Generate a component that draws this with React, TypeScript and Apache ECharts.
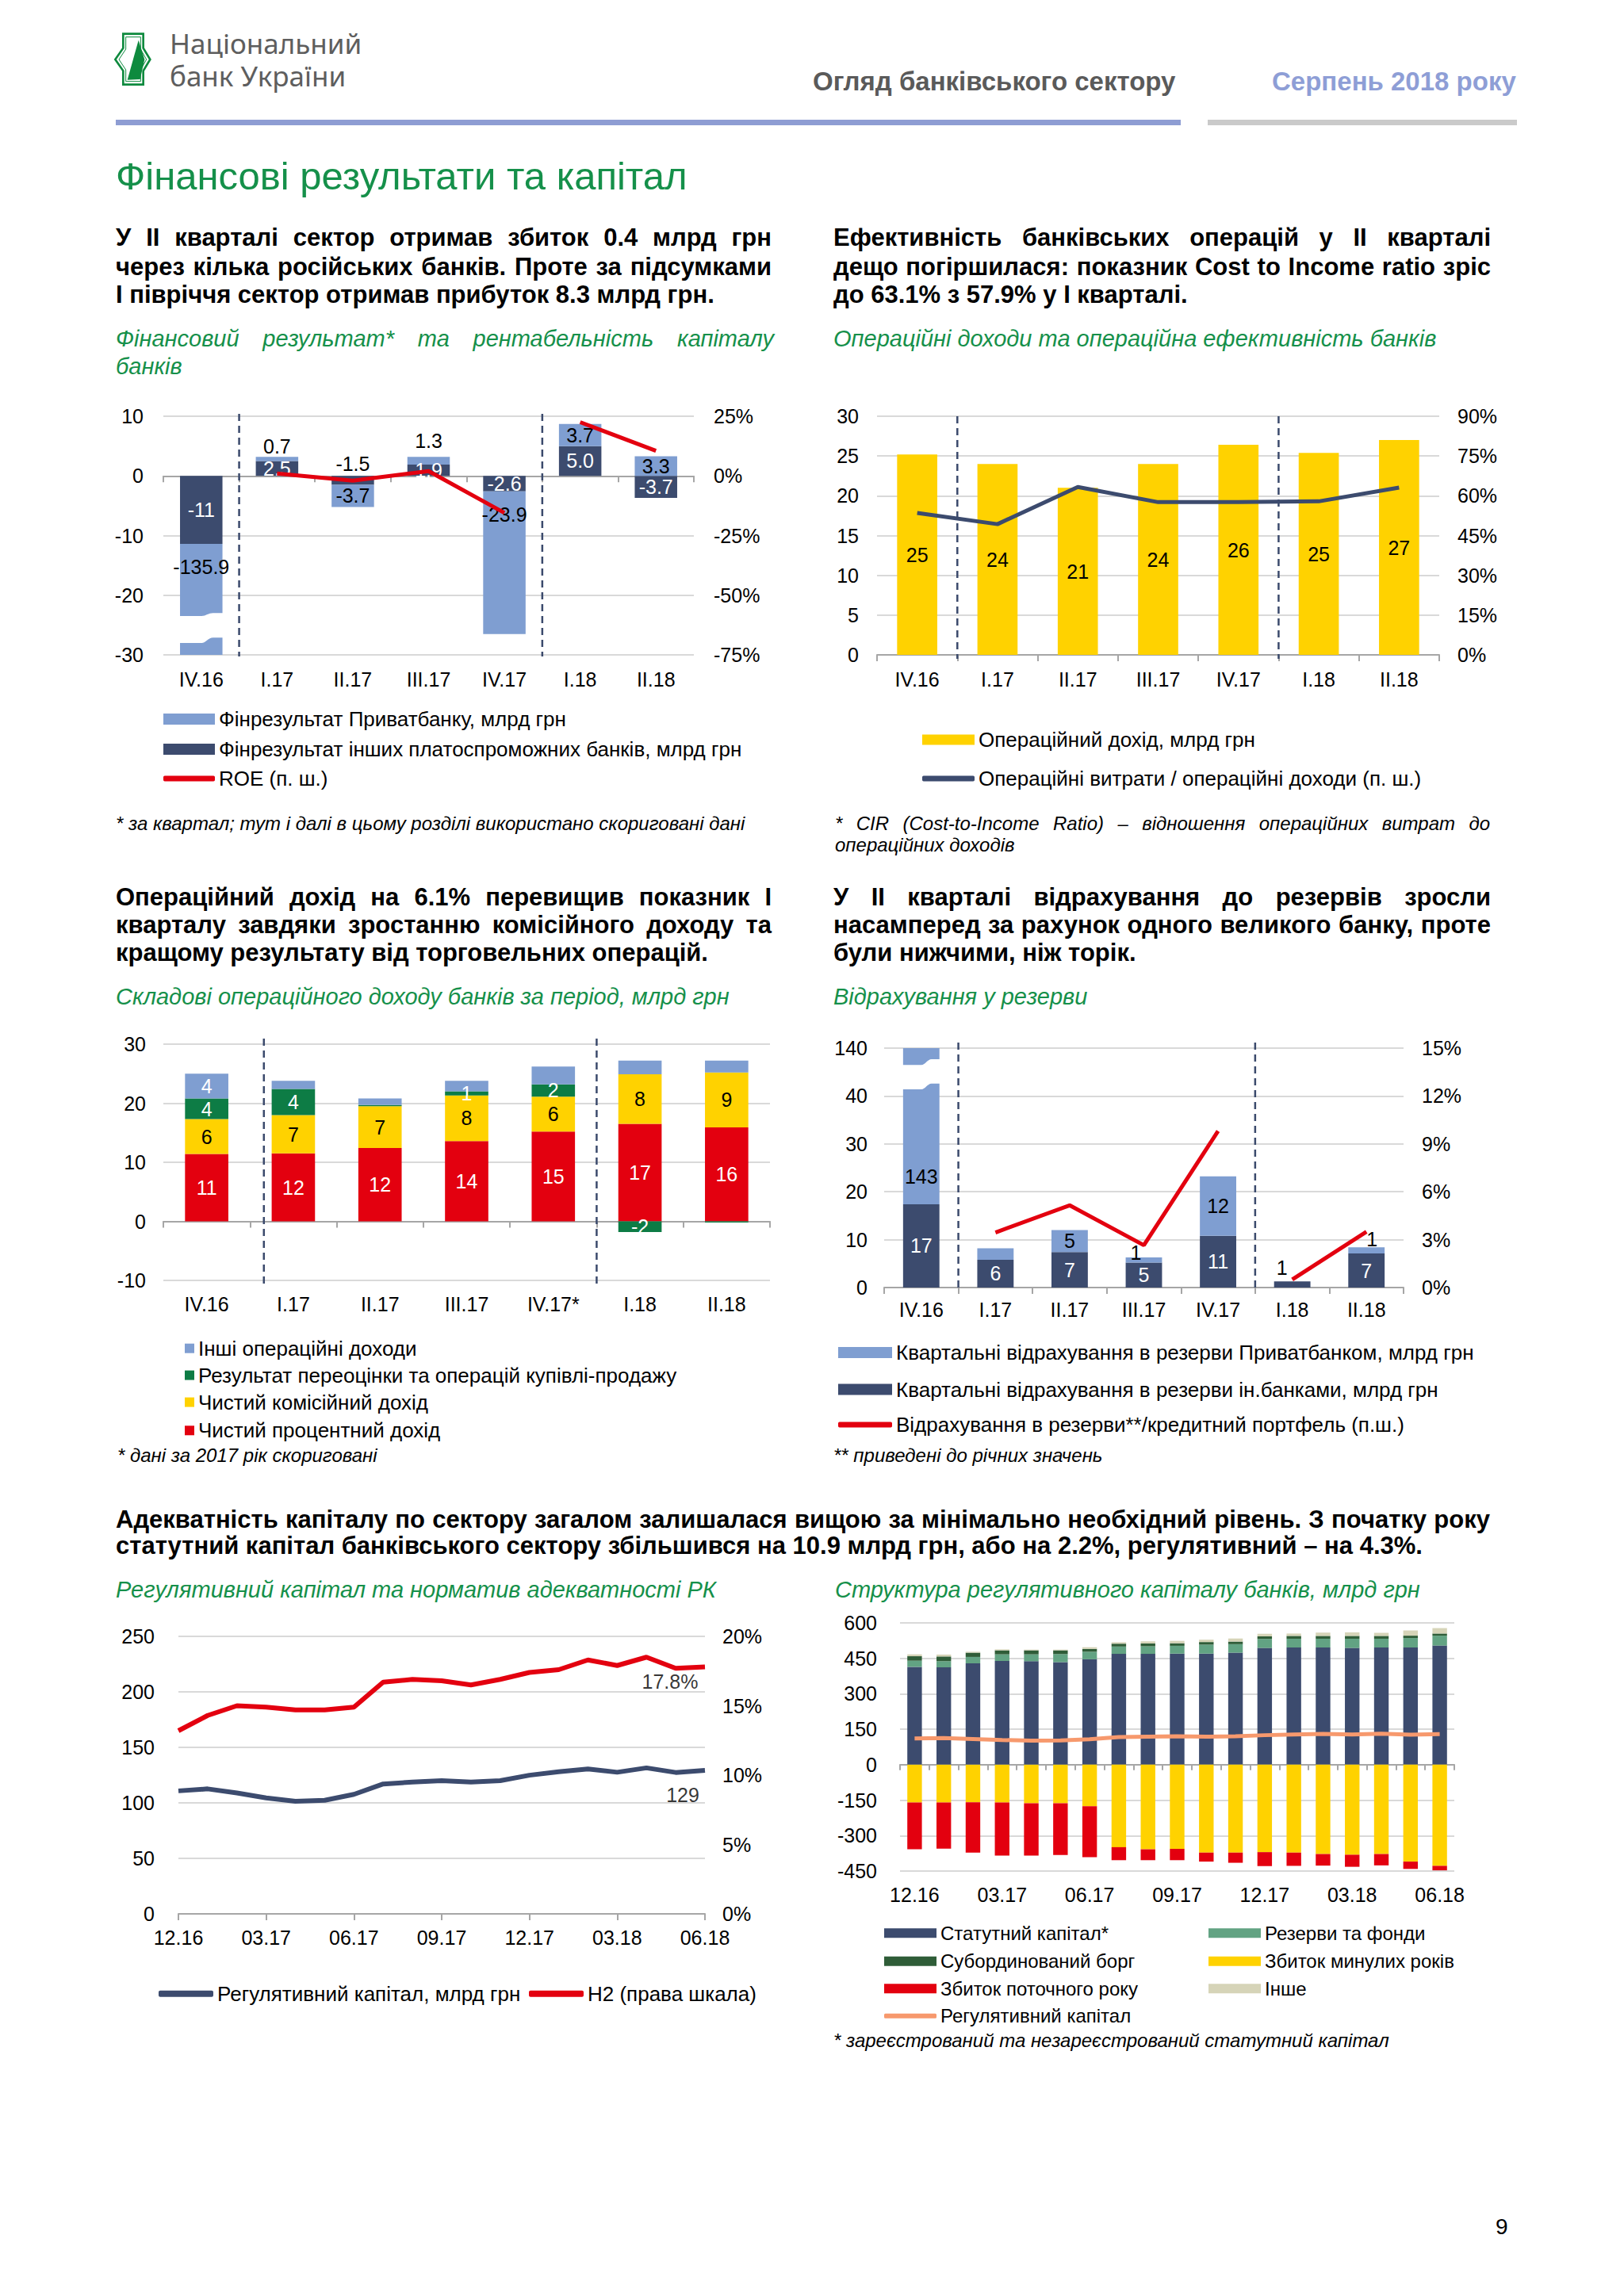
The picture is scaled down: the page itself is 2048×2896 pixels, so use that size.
import React, { useEffect, useRef } from 'react';
import * as echarts from 'echarts';

const FONT = '"Liberation Sans", Arial, Helvetica, sans-serif';

const NAVY = '#3C4B6E';
const LIGHT_BLUE = '#7F9ED1';
const RED = '#E3000F';
const YELLOW = '#FFD200';
const GREEN = '#0D7C45';
const SAGE = '#62A383';
const DARK_GREEN = '#2F5D38';
const BEIGE = '#D6D4B8';
const ORANGE = '#F7996D';
const GRID_GRAY = '#D9D9D9';
const AXIS_GRAY = '#A6A6A6';
const TITLE_GREEN = '#15904A';

// ---------- Chart 1: financial result & ROE ----------
const quarters = ['IV.16', 'I.17', 'II.17', 'III.17', 'IV.17', 'I.18', 'II.18'];
const finPrivat = [-135.9, 0.7, -3.7, 1.3, -23.9, 3.7, 3.3];
const finOthers = [-11.4, 2.5, -1.5, 1.9, -2.6, 5.0, -3.7];
const roe = [null, 1.0, -2.0, 2.0, -15.5, 22.5, 10.5];

// ---------- Chart 2: operating income & CIR ----------
const opIncome = [25.2, 24.0, 21.0, 24.0, 26.4, 25.4, 27.0];
const cir = [53.5, 49.3, 63.3, 57.6, 57.6, 57.9, 63.1];

// ---------- Chart 3: operating income components ----------
const quarters3 = ['IV.16', 'I.17', 'II.17', 'III.17', 'IV.17*', 'I.18', 'II.18'];
const netInterest = [11.4, 11.5, 12.4, 13.6, 15.2, 16.5, 15.9];
const netFee = [5.9, 6.5, 7.1, 7.7, 5.9, 8.4, 9.3];
const tradingResult = [3.5, 4.4, 0.2, 0.7, 2.1, -1.8, -0.2];
const otherOpIncome = [4.2, 1.4, 1.1, 1.8, 3.0, 2.3, 2.0];

// ---------- Chart 4: provisions ----------
const provOthers = [17.4, 5.8, 7.4, 5.2, 10.8, 1.3, 7.1];
const provPrivat = [143, 2.4, 4.6, 1.1, 12.4, 0, 1.3];
const provRatio = [null, 3.45, 5.15, 2.65, 9.8, 0.5, 3.5];

// ---------- Chart 5: regulatory capital & H2 ----------
const months = ['12.16', '01.17', '02.17', '03.17', '04.17', '05.17', '06.17', '07.17', '08.17', '09.17', '10.17', '11.17', '12.17', '01.18', '02.18', '03.18', '04.18', '05.18', '06.18'];
const regCapital = [110.8, 112.6, 108.9, 104.5, 101.5, 102.3, 107.7, 117.0, 118.7, 120.0, 118.7, 120.0, 124.9, 128.1, 130.5, 127.6, 131.5, 127.4, 129.3];
const h2 = [13.2, 14.3, 15.0, 14.9, 14.7, 14.7, 14.9, 16.7, 16.9, 16.8, 16.5, 16.9, 17.4, 17.6, 18.3, 17.9, 18.5, 17.7, 17.8];

// ---------- Chart 6: structure of regulatory capital ----------
const statCap = [414, 412, 429, 439, 438, 434, 446, 469, 469, 470, 470, 474, 494, 496, 496, 494, 496, 496, 504];
const reserves = [26, 26, 27, 28, 29, 34, 32, 31, 32, 33, 38, 36, 38, 37, 37, 39, 37, 40, 42];
const subDebt = [19, 20, 18, 17, 17, 16, 12, 12, 12, 11, 11, 11, 11, 12, 12, 12, 12, 10, 9];
const otherCap = [8, 8, 4, 4, 3, 3, 7, 6, 9, 10, 10, 13, 11, 10, 14, 15, 13, 22, 23];
const pastLoss = [-160, -160, -159, -160, -163, -163, -176, -349, -358, -356, -372, -372, -370, -372, -378, -381, -378, -410, -428];
const curLoss = [-198, -195, -213, -225, -222, -219, -215, -55, -46, -48, -38, -43, -59, -56, -49, -51, -48, -31, -19];

// series names
const S1A = 'Фінрезультат Приватбанку, млрд грн';
const S1B = 'Фінрезультат інших платоспроможних банків, млрд грн';
const S1C = 'ROE (п. ш.)';
const S2A = 'Операційний дохід, млрд грн';
const S2B = 'Операційні витрати / операційні доходи (п. ш.)';
const S3A = 'Інші операційні доходи';
const S3B = 'Результат переоцінки та операцій купівлі-продажу';
const S3C = 'Чистий комісійний дохід';
const S3D = 'Чистий процентний дохід';
const S4A = 'Квартальні відрахування в резерви Приватбанком, млрд грн';
const S4B = 'Квартальні відрахування в резерви ін.банками, млрд грн';
const S4C = 'Відрахування в резерви**/кредитний портфель (п.ш.)';
const S5A = 'Регулятивний капітал, млрд грн';
const S5B = 'Н2 (права шкала)';
const S6A = 'Статутний капітал*';
const S6B = 'Резерви та фонди';
const S6C = 'Субординований борг';
const S6D = 'Збиток минулих років';
const S6E = 'Збиток поточного року';
const S6F = 'Інше';
const S6G = 'Регулятивний капітал';

const lbl = { fontSize: 25, color: '#000', fontFamily: FONT };

function segment(arr: (number | null)[], from: number, to: number) {
  return arr.map((v, i) => (i >= from && i <= to ? v : null));
}

function catAxis(gridIndex: number, data: string[], margin: number, extra: any = {}) {
  return {
    type: 'category',
    gridIndex,
    data,
    axisLine: { show: true, onZero: true, lineStyle: { color: AXIS_GRAY, width: 2 } },
    axisTick: { show: true, length: 8, interval: 0, lineStyle: { color: AXIS_GRAY, width: 2 } },
    axisLabel: { ...lbl, margin, interval: 0 },
    splitLine: { show: false },
    ...extra,
  };
}

function valAxis(gridIndex: number, position: string, min: number, max: number, interval: number, margin: number, formatter?: any, split = true) {
  const axisLabel: any = { ...lbl, margin };
  if (formatter) axisLabel.formatter = formatter;
  return {
    type: 'value',
    gridIndex,
    position,
    min,
    max,
    interval,
    axisLine: { show: false },
    axisTick: { show: false },
    axisLabel,
    splitLine: split ? { show: true, lineStyle: { color: GRID_GRAY, width: 2 } } : { show: false },
  };
}

const pct = (v: number) => `${v}%`;

function dividers(xAxisIndex: number, yAxisIndex: number, positions: number[], n: number, extTop: number, extBot: number) {
  return {
    type: 'custom',
    xAxisIndex,
    yAxisIndex,
    silent: true,
    z: 5,
    data: positions.map((p) => [0, 0, p]),
    renderItem: (params: any, api: any) => {
      const cs = params.coordSys;
      const x = cs.x + (cs.width * api.value(2)) / n;
      return {
        type: 'line',
        shape: { x1: x, y1: cs.y - extTop, x2: x, y2: cs.y + cs.height + extBot },
        style: { stroke: '#3B4A6C', lineWidth: 2.5, lineDash: [9, 6] },
      };
    },
  };
}

function breakMark(xAxisIndex: number, yAxisIndex: number, edges: number[], ratio: number) {
  return {
    type: 'custom',
    xAxisIndex,
    yAxisIndex,
    silent: true,
    z: 4,
    data: [[0, ...edges]],
    renderItem: (params: any, api: any) => {
      const cat = api.value(0);
      const c = api.coord([cat, api.value(1)]);
      const w = api.size([1, 0])[0] * ratio;
      const x0 = c[0] - w / 2 - 3;
      const x1 = c[0] + w / 2 + 3;
      const ww = x1 - x0;
      const yTL = api.coord([cat, api.value(1)])[1];
      const yTR = api.coord([cat, api.value(2)])[1];
      const yBL = api.coord([cat, api.value(3)])[1];
      const yBR = api.coord([cat, api.value(4)])[1];
      const a = x0 + ww * 0.5;
      const b = x0 + ww * 0.6;
      const cc = x0 + ww * 0.65;
      const d = x0 + ww * 0.75;
      const path =
        `M${x0},${yTL} L${a},${yTL} C${b},${yTL} ${cc},${yTR} ${d},${yTR} L${x1},${yTR} ` +
        `L${x1},${yBR} L${d},${yBR} C${cc},${yBR} ${b},${yBL} ${a},${yBL} L${x0},${yBL} Z`;
      return { type: 'path', shape: { pathData: path }, style: { fill: '#fff' } };
    },
  };
}

// one legend component per item, placed by the centre of its row
function legendItem(left: number, cy: number, name: string, w: number, h: number, icon = 'rect', size = 26) {
  const boxH = Math.max(h, size);
  return {
    left,
    top: cy - boxH / 2,
    orient: 'vertical',
    padding: 0,
    itemWidth: w,
    itemHeight: h,
    icon,
    selectedMode: false,
    textStyle: { fontSize: size, color: '#000', fontFamily: FONT },
    data: [name],
  };
}

// label for the last point of a line (invisible scatter point carrying the label)
function lastPointLabel(xAxisIndex: number, yAxisIndex: number, values: number[], dx: number, dy: number, fmt: (v: number) => string) {
  const i = values.length - 1;
  return {
    type: 'scatter',
    xAxisIndex,
    yAxisIndex,
    silent: true,
    symbolSize: 1,
    z: 7,
    itemStyle: { color: 'rgba(0,0,0,0)' },
    label: { show: true, position: 'bottom', distance: 5, offset: [dx, dy], ...lbl, formatter: (p: any) => fmt(p.value[1]) },
    data: [[i, values[i]]],
  };
}

function buildOption() {
  const grids = [
    { left: 206, top: 525, width: 669, height: 301 },
    { left: 1106, top: 525, width: 709, height: 301 },
    { left: 206, top: 1317, width: 765, height: 298 },
    { left: 1115, top: 1322, width: 655, height: 302 },
    { left: 225, top: 2064, width: 664, height: 350 },
    { left: 1135, top: 2047, width: 699, height: 313 },
  ];

  const xAxis = [
    catAxis(0, quarters, 18),
    catAxis(1, quarters, 18),
    catAxis(2, quarters3, 17),
    catAxis(3, quarters, 15),
    catAxis(4, months, 17, {
      boundaryGap: false,
      axisTick: { show: true, length: 8, interval: 2, lineStyle: { color: AXIS_GRAY, width: 2 } },
      axisLabel: { ...lbl, margin: 17, interval: 2 },
    }),
    catAxis(5, months, 17, {
      axisTick: { show: true, length: 7, interval: 0, lineStyle: { color: AXIS_GRAY, width: 2 } },
      axisLabel: { ...lbl, margin: 17, interval: 2 },
    }),
  ];

  const yAxis = [
    valAxis(0, 'left', -30, 10, 10, 25),
    valAxis(0, 'right', -75, 25, 25, 25, pct, false),
    valAxis(1, 'left', 0, 30, 5, 23),
    valAxis(1, 'right', 0, 90, 15, 23, pct, false),
    valAxis(2, 'left', -10, 30, 10, 22),
    valAxis(3, 'left', 0, 50, 10, 21, (v: number) => (v === 50 ? '140' : String(v))),
    valAxis(3, 'right', 0, 15, 3, 23, pct, false),
    valAxis(4, 'left', 0, 250, 50, 30),
    valAxis(4, 'right', 0, 20, 5, 22, pct, false),
    valAxis(5, 'left', -450, 600, 150, 29),
  ];

  const round = (p: any) => String(Math.round(p.value));
  const whiteInside = { show: true, position: 'inside', ...lbl, color: '#fff' };
  const blackInside = { show: true, position: 'inside', ...lbl, color: '#000' };

  // broken axis for chart 4: a bar above 40 is drawn up to the "140" line
  const provPrivatDisplay = provPrivat.map((v, i) => (provOthers[i] + v > 40 ? 50 - provOthers[i] : v));

  const series: any[] = [
    // ---- chart 1
    {
      name: S1B, type: 'bar', xAxisIndex: 0, yAxisIndex: 0, stack: 'fin', barWidth: '56%',
      itemStyle: { color: NAVY },
      label: { ...whiteInside, formatter: (p: any) => (p.dataIndex === 0 ? p.value.toFixed(0) : p.value.toFixed(1)) },
      data: finOthers.map((v, i) => (i === 2 ? { value: v, label: { position: 'top', color: '#000', distance: 3 } } : v)),
    },
    {
      name: S1A, type: 'bar', xAxisIndex: 0, yAxisIndex: 0, stack: 'fin', barWidth: '56%',
      itemStyle: { color: LIGHT_BLUE },
      label: { ...blackInside, formatter: (p: any) => p.value.toFixed(1) },
      data: finPrivat.map((v, i) => {
        if (i === 0) return { value: v, label: { position: 'insideTop', distance: 16 } };
        if (i === 4) return { value: v, label: { position: 'insideTop', distance: 17 } };
        if (i === 1) return { value: v, label: { position: 'top', distance: 1 } };
        if (i === 3) return { value: v, label: { position: 'top', distance: 8 } };
        return v;
      }),
    },
    breakMark(0, 0, [-23.5, -23.0, -28.0, -27.1], 0.56),
    {
      name: S1C, type: 'line', xAxisIndex: 0, yAxisIndex: 1, symbol: 'none',
      lineStyle: { color: RED, width: 5 }, itemStyle: { color: RED },
      data: segment(roe, 1, 4), z: 6,
    },
    {
      name: S1C, type: 'line', xAxisIndex: 0, yAxisIndex: 1, symbol: 'none',
      lineStyle: { color: RED, width: 5 }, itemStyle: { color: RED },
      data: segment(roe, 5, 6), z: 6,
    },
    dividers(0, 0, [1, 5], 7, 3, 2),

    // ---- chart 2
    {
      name: S2A, type: 'bar', xAxisIndex: 1, yAxisIndex: 2, barWidth: '50%',
      itemStyle: { color: YELLOW },
      label: { ...blackInside, formatter: round },
      data: opIncome,
    },
    {
      name: S2B, type: 'line', xAxisIndex: 1, yAxisIndex: 3, symbol: 'none',
      lineStyle: { color: NAVY, width: 5 }, itemStyle: { color: NAVY },
      data: cir, z: 6,
    },
    dividers(1, 2, [1, 5], 7, 0, 5),

    // ---- chart 3
    {
      name: S3D, type: 'bar', xAxisIndex: 2, yAxisIndex: 4, stack: 'op', barWidth: '50%',
      itemStyle: { color: RED }, label: { ...whiteInside, formatter: round }, data: netInterest,
    },
    {
      name: S3C, type: 'bar', xAxisIndex: 2, yAxisIndex: 4, stack: 'op', barWidth: '50%',
      itemStyle: { color: YELLOW }, label: { ...blackInside, formatter: round }, data: netFee,
    },
    {
      name: S3B, type: 'bar', xAxisIndex: 2, yAxisIndex: 4, stack: 'op', barWidth: '50%',
      itemStyle: { color: GREEN },
      label: { ...whiteInside, formatter: (p: any) => (Math.abs(p.value) >= 0.5 ? String(Math.round(p.value)) : '') },
      data: tradingResult,
    },
    {
      name: S3A, type: 'bar', xAxisIndex: 2, yAxisIndex: 4, stack: 'op', barWidth: '50%',
      itemStyle: { color: LIGHT_BLUE },
      label: { ...whiteInside, formatter: (p: any) => (p.dataIndex === 0 ? String(Math.round(p.value)) : '') },
      data: otherOpIncome,
    },
    dividers(2, 4, [1.16, 5], 7, 7, 9),

    // ---- chart 4
    {
      name: S4B, type: 'bar', xAxisIndex: 3, yAxisIndex: 5, stack: 'prov', barWidth: '49%',
      itemStyle: { color: NAVY },
      label: { ...whiteInside, formatter: round },
      data: provOthers.map((v, i) =>
        i === 5 ? { value: v, label: { position: 'top', color: '#000', distance: 5, offset: [-13, 0] } } : v
      ),
    },
    {
      name: S4A, type: 'bar', xAxisIndex: 3, yAxisIndex: 5, stack: 'prov', barWidth: '49%',
      itemStyle: { color: LIGHT_BLUE },
      label: {
        ...blackInside,
        formatter: (p: any) => {
          const v = provPrivat[p.dataIndex];
          return v >= 1 && !(v > 2 && v < 3) ? String(Math.round(v)) : '';
        },
      },
      data: provPrivatDisplay.map((v, i) => {
        if (i === 0) return { value: v, label: { position: 'insideBottom', distance: 22 } };
        if (i === 3) return { value: v, label: { position: 'top', distance: -7, offset: [-10, 0] } };
        if (i === 6) return { value: v, label: { position: 'top', distance: -2, offset: [7, 0] } };
        return v;
      }),
    },
    breakMark(3, 5, [46.5, 47.7, 41.4, 42.6], 0.49),
    {
      name: S4C, type: 'line', xAxisIndex: 3, yAxisIndex: 6, symbol: 'none',
      lineStyle: { color: RED, width: 5 }, itemStyle: { color: RED },
      data: segment(provRatio, 1, 4), z: 6,
    },
    {
      name: S4C, type: 'line', xAxisIndex: 3, yAxisIndex: 6, symbol: 'none',
      lineStyle: { color: RED, width: 5 }, itemStyle: { color: RED },
      data: segment(provRatio, 5, 6), z: 6,
    },
    dividers(3, 5, [1, 5], 7, 7, 5),

    // ---- chart 5
    {
      name: S5A, type: 'line', xAxisIndex: 4, yAxisIndex: 7, symbol: 'none',
      lineStyle: { color: NAVY, width: 6 }, itemStyle: { color: NAVY },
      data: regCapital,
    },
    {
      name: S5B, type: 'line', xAxisIndex: 4, yAxisIndex: 8, symbol: 'none',
      lineStyle: { color: RED, width: 6 }, itemStyle: { color: RED },
      data: h2,
    },
    lastPointLabel(4, 7, regCapital, -28, 13, (x) => String(Math.round(x))),
    lastPointLabel(4, 8, h2, -44, 0, (x) => `${x.toFixed(1)}%`),

    // ---- chart 6
    { name: S6A, type: 'bar', xAxisIndex: 5, yAxisIndex: 9, stack: 'cap', barWidth: '50%', itemStyle: { color: NAVY }, data: statCap },
    { name: S6B, type: 'bar', xAxisIndex: 5, yAxisIndex: 9, stack: 'cap', barWidth: '50%', itemStyle: { color: SAGE }, data: reserves },
    { name: S6C, type: 'bar', xAxisIndex: 5, yAxisIndex: 9, stack: 'cap', barWidth: '50%', itemStyle: { color: DARK_GREEN }, data: subDebt },
    { name: S6F, type: 'bar', xAxisIndex: 5, yAxisIndex: 9, stack: 'cap', barWidth: '50%', itemStyle: { color: BEIGE }, data: otherCap },
    { name: S6D, type: 'bar', xAxisIndex: 5, yAxisIndex: 9, stack: 'cap', barWidth: '50%', itemStyle: { color: YELLOW }, data: pastLoss },
    { name: S6E, type: 'bar', xAxisIndex: 5, yAxisIndex: 9, stack: 'cap', barWidth: '50%', itemStyle: { color: RED }, data: curLoss },
    {
      name: S6G, type: 'line', xAxisIndex: 5, yAxisIndex: 9, symbol: 'none',
      lineStyle: { color: ORANGE, width: 5 }, itemStyle: { color: ORANGE }, data: regCapital, z: 6,
    },
  ];

  const legends = [
    legendItem(206, 907, S1A, 65, 14),
    legendItem(206, 945, S1B, 65, 14),
    legendItem(206, 982, S1C, 65, 7, 'roundRect'),

    legendItem(1163, 933, S2A, 66, 13),
    legendItem(1163, 982, S2B, 66, 7, 'roundRect'),

    legendItem(233, 1700.7, S3A, 12, 12),
    legendItem(233, 1734.6, S3B, 12, 12),
    legendItem(233, 1768.6, S3C, 12, 12),
    legendItem(233, 1804.3, S3D, 12, 12),

    legendItem(1057, 1706, S4A, 68, 14),
    legendItem(1057, 1752.5, S4B, 68, 14),
    legendItem(1057, 1797, S4C, 68, 7, 'roundRect'),

    legendItem(200, 2514.8, S5A, 69, 8, 'roundRect'),
    legendItem(667, 2514.8, S5B, 69, 8, 'roundRect'),

    legendItem(1115, 2438.2, S6A, 66, 12, 'rect', 24),
    legendItem(1115, 2473.8, S6C, 66, 12, 'rect', 24),
    legendItem(1115, 2508.2, S6E, 66, 12, 'rect', 24),
    legendItem(1115, 2542.7, S6G, 66, 6, 'roundRect', 24),
    legendItem(1524, 2438.2, S6B, 66, 12, 'rect', 24),
    legendItem(1524, 2473.8, S6D, 66, 12, 'rect', 24),
    legendItem(1524, 2508.2, S6F, 66, 12, 'rect', 24),
  ];

  return {
    animation: false,
    backgroundColor: 'transparent',
    textStyle: { fontFamily: FONT },
    grid: grids,
    xAxis,
    yAxis,
    legend: legends,
    series,
  };
}

function T({ x, y, w, size, lh, bold, italic, color = '#000', justify, family, children }: any) {
  const lineH = lh || Math.round(size * 1.25);
  const style: any = {
    position: 'absolute',
    left: x,
    top: y - lineH / 2,
    fontSize: size,
    lineHeight: `${lineH}px`,
    fontWeight: bold ? 700 : 400,
    fontStyle: italic ? 'italic' : 'normal',
    color,
    whiteSpace: 'nowrap',
    fontFamily: family || FONT,
    textAlign: justify ? 'justify' : 'left',
    textAlignLast: justify ? 'justify' : 'left',
  };
  if (w) style.width = w;
  return <div style={style}>{children}</div>;
}

function Logo() {
  return (
    <svg style={{ position: 'absolute', left: 138, top: 30 }} width={60} height={90} viewBox="0 0 180 270">
      <polygon points="52,38 128,38 128,92 154,135 128,178 128,230 52,230 52,178 22,135 52,92" fill="none" stroke="#0E8A3E" strokeWidth={8} />
      <polygon points="62,50 118,50 118,96 140,135 118,174 118,218 62,218 62,174 36,135 62,96" fill="none" stroke="#0E8A3E" strokeWidth={3} />
      <polygon points="110,62 133,135 116,210 68,212" fill="#0E8A3E" />
    </svg>
  );
}

export default function App() {
  const ref = useRef<HTMLDivElement>(null);
  useEffect(() => {
    if (!ref.current) return;
    const chart = echarts.init(ref.current, null, { renderer: 'svg', width: 2048, height: 2896 });
    chart.setOption(buildOption() as any);
    return () => chart.dispose();
  }, []);

  const B = { size: 31, lh: 36, bold: true };
  const S = { size: 29, lh: 34, italic: true, color: TITLE_GREEN };
  const F = { size: 24, lh: 27, italic: true };
  const headFont = '"Noto Sans", "Open Sans", sans-serif';

  return (
    <div style={{ position: 'absolute', left: 0, top: 0, width: 2048, height: 2896, background: '#fff', overflow: 'hidden', fontFamily: FONT }}>
      <div ref={ref} style={{ position: 'absolute', left: 0, top: 0, width: 2048, height: 2896 }} />

      {/* header */}
      <Logo />
      <T x={214} y={55} size={35} lh={38} color="#5E5E5E" family={headFont}>Національний</T>
      <T x={214} y={96} size={35} lh={38} color="#5E5E5E" family={headFont}>банк України</T>
      <T x={1025} y={103} size={33} lh={40} bold color="#5A5A5A">Огляд банківського сектору</T>
      <T x={1604} y={103} size={33} lh={40} bold color="#8E9ED6">Серпень 2018 року</T>
      <div style={{ position: 'absolute', left: 146, top: 151, width: 1343, height: 7, background: '#8E9DD3' }} />
      <div style={{ position: 'absolute', left: 1523, top: 151, width: 390, height: 7, background: '#CACACA' }} />

      <T x={146} y={222} size={49} lh={58} color={TITLE_GREEN}>Фінансові результати та капітал</T>

      {/* block 1 */}
      <T x={146} y={300} w={827} {...B} justify>У ІІ кварталі сектор отримав збиток 0.4 млрд грн</T>
      <T x={146} y={337} w={827} {...B} justify>через кілька російських банків. Проте за підсумками</T>
      <T x={146} y={372} {...B}>І півріччя сектор отримав прибуток 8.3 млрд грн.</T>

      <T x={1051} y={300} w={829} {...B} justify>Ефективність банківських операцій у ІІ кварталі</T>
      <T x={1051} y={337} w={829} {...B} justify>дещо погіршилася: показник Cost to Income ratio зріс</T>
      <T x={1051} y={372} {...B}>до 63.1% з 57.9% у І кварталі.</T>

      <T x={146} y={427} w={830} {...S} justify>Фінансовий результат* та рентабельність капіталу</T>
      <T x={146} y={462} {...S}>банків</T>
      <T x={1051} y={427} {...S}>Операційні доходи та операційна ефективність банків</T>

      <T x={146} y={1038} {...F}>* за квартал; тут і далі в цьому розділі використано скориговані дані</T>
      <T x={1053} y={1038} w={826} {...F} justify>* CIR (Cost-to-Income Ratio) – відношення операційних витрат до</T>
      <T x={1053} y={1065} {...F}>операційних доходів</T>

      {/* block 2 */}
      <T x={146} y={1132} w={827} {...B} justify>Операційний дохід на 6.1% перевищив показник І</T>
      <T x={146} y={1167} w={827} {...B} justify>кварталу завдяки зростанню комісійного доходу та</T>
      <T x={146} y={1202} {...B}>кращому результату від торговельних операцій.</T>

      <T x={1051} y={1132} w={829} {...B} justify>У ІІ кварталі відрахування до резервів зросли</T>
      <T x={1051} y={1167} w={829} {...B} justify>насамперед за рахунок одного великого банку, проте</T>
      <T x={1051} y={1202} {...B}>були нижчими, ніж торік.</T>

      <T x={146} y={1257} {...S}>Складові операційного доходу банків за період, млрд грн</T>
      <T x={1051} y={1257} {...S}>Відрахування у резерви</T>

      <T x={148} y={1835} {...F}>* дані за 2017 рік скориговані</T>
      <T x={1051} y={1835} {...F}>** приведені до річних значень</T>

      {/* block 3 */}
      <T x={146} y={1917} w={1733} {...B} justify>Адекватність капіталу по сектору загалом залишалася вищою за мінімально необхідний рівень. З початку року</T>
      <T x={146} y={1950} {...B}>статутний капітал банківського сектору збільшився на 10.9 млрд грн, або на 2.2%, регулятивний – на 4.3%.</T>

      <T x={146} y={2005} {...S}>Регулятивний капітал та норматив адекватності РК</T>
      <T x={1053} y={2005} {...S}>Структура регулятивного капіталу банків, млрд грн</T>

      <T x={1051} y={2573} {...F}>* зареєстрований та незареєстрований статутний капітал</T>

      <T x={1886} y={2809} size={28} lh={34}>9</T>
    </div>
  );
}
